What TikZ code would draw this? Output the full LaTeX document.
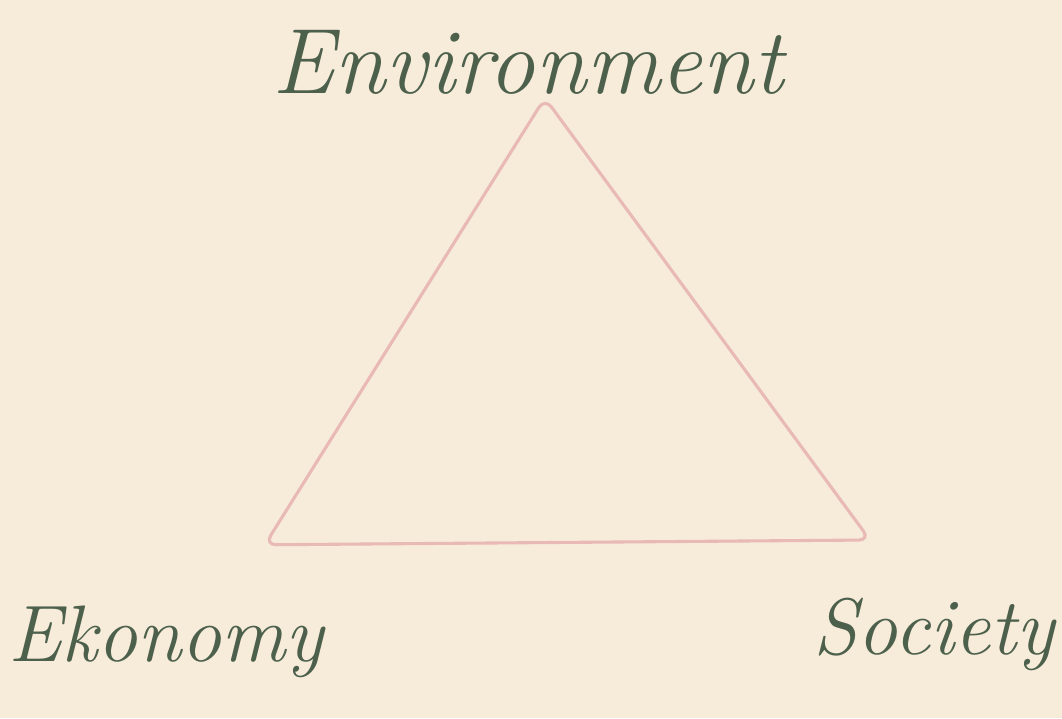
\documentclass[tikz,border=0pt]{standalone}
\usepackage{tikz}
\usetikzlibrary{positioning}

\definecolor{paper}{HTML}{F7ECDA}
\definecolor{pencil}{HTML}{4C604C}
\definecolor{rosy}{HTML}{E8B9B5}

\begin{document}
\begin{tikzpicture}[
  word/.style={text=pencil, font=\fontsize{66}{72}\selectfont\itshape,
              inner sep=0pt},
  small word/.style={word, font=\fontsize{57}{64}\selectfont\itshape},
  side/.style={draw=rosy, line width=2.2pt, rounded corners=8pt,
              line join=round},
]

\fill[paper] (0,0) rectangle (26.55,17.95);
\useasboundingbox (0,0) rectangle (26.55,17.95);

% corners of the triangle
\coordinate (top) at (13.62,15.5);
\coordinate (lft) at (6.62,4.33);
\coordinate (rgt) at (21.75,4.45);

\draw[side] (top) -- (lft) -- (rgt) -- cycle;

\node[word] (env) at (13.2,16.4) {Environment};
\node[small word] (eko) at (4.15,1.9) {Ekonomy};
\node[small word] (soc) at (23.35,2.1) {Society};

\end{tikzpicture}
\end{document}
